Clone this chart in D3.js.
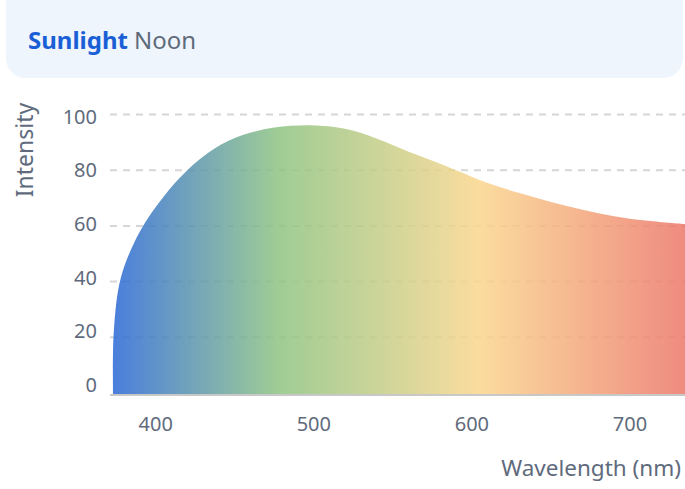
<!DOCTYPE html>
<html><head><meta charset="utf-8">
<script src="https://cdn.jsdelivr.net/npm/d3@7"></script>
<style>body{margin:0;background:#fff}svg{display:block}</style>
</head><body><svg id="c" width="685" height="489"></svg>
<script>
const wavelengths = [373,373.5,378,390,405,420,437,455,475,497,515,530,545,560,575,590,610,630,650,670,690,710,735];
const intensity   = [0,22,41.5,58,70.5,80,87.7,92.6,95.3,96.1,95.3,93.4,90.2,86.6,83.4,80,75.4,71.8,68.6,65.8,63.5,61.9,60.6];
const yTicks = [0,20,40,60,80,100];
const xTicks = [400,500,600,700];
const gradStops = [
  {offset:0, color:"#2a68d6"},
  {offset:0.29, color:"#8ec482"},
  {offset:0.64, color:"#fad68d"},
  {offset:1, color:"#ec776a"}
];
const titleBold = "Sunlight", titleRest = "Noon";
const yLabel = "Intensity", xLabel = "Wavelength (nm)";

const svg = d3.select("#c");
const font = "'Noto Sans', 'Open Sans', sans-serif";
const x = d3.scaleLinear().domain([400,700]).range([155.7,630]);
const y = d3.scaleLinear().domain([0,100]).range([393,114.5]);
const yLab = d3.scaleLinear().domain([0,100]).range([385,116.7]);

// title box
svg.append("rect").attr("x",6).attr("y",-22).attr("width",677).attr("height",100).attr("rx",20).attr("fill","#eef5fd");
const t = svg.append("text").attr("x",28).attr("y",41).attr("dy","0.35em").attr("font-family",font).attr("font-size",24);
t.append("tspan").attr("font-weight",700).attr("fill","#1a5fd6").text(titleBold);
t.append("tspan").attr("fill","#5f6b7a").attr("dx",6).text(titleRest);

// gradient
const defs = svg.append("defs");
const g = defs.append("linearGradient").attr("id","spec").attr("gradientUnits","userSpaceOnUse")
  .attr("x1",x(wavelengths[0])).attr("x2",x(wavelengths[wavelengths.length-1])).attr("y1",0).attr("y2",0);
g.selectAll("stop").data(gradStops).join("stop").attr("offset",d=>d.offset).attr("stop-color",d=>d.color);

// grid
svg.append("g").selectAll("line").data(yTicks.filter(d=>d>0)).join("line")
  .attr("x1",110).attr("x2",685).attr("y1",d=>y(d)).attr("y2",d=>y(d))
  .attr("stroke","#d6d6d6").attr("stroke-width",2).attr("stroke-dasharray","7,6");

// area
const data = wavelengths.map((w,i)=>({w, v:intensity[i]}));
svg.append("path").datum(data)
  .attr("d", d3.area().x(d=>x(d.w)).y0(y(0)+1).y1(d=>y(d.v)).curve(d3.curveCatmullRom.alpha(0.5)))
  .attr("fill","url(#spec)").attr("fill-opacity",0.85);

// x axis line
svg.append("line").attr("x1",110).attr("x2",685).attr("y1",395).attr("y2",395)
  .attr("stroke","#c8c8c8").attr("stroke-width",2);

// tick labels
svg.append("g").selectAll("text").data(yTicks).join("text")
  .attr("x",97).attr("y",d=>yLab(d)).attr("dy","0.35em").attr("text-anchor","end")
  .attr("font-family",font).attr("font-size",20).attr("fill","#5f6b7d").text(d=>d);
svg.append("g").selectAll("text").data(xTicks).join("text")
  .attr("x",d=>x(d)).attr("y",424).attr("dy","0.35em").attr("text-anchor","middle")
  .attr("font-family",font).attr("font-size",20).attr("fill","#5f6b7d").text(d=>d);

svg.append("text").attr("transform","translate(25,150) rotate(-90)").attr("dy","0.35em")
  .attr("text-anchor","middle").attr("font-family",font).attr("font-size",23).attr("fill","#5f6b7d").text(yLabel);
svg.append("text").attr("x",681).attr("y",468).attr("dy","0.35em")
  .attr("text-anchor","end").attr("font-family",font).attr("font-size",22.5).attr("fill","#5f6b7d").text(xLabel);
</script></body></html>
